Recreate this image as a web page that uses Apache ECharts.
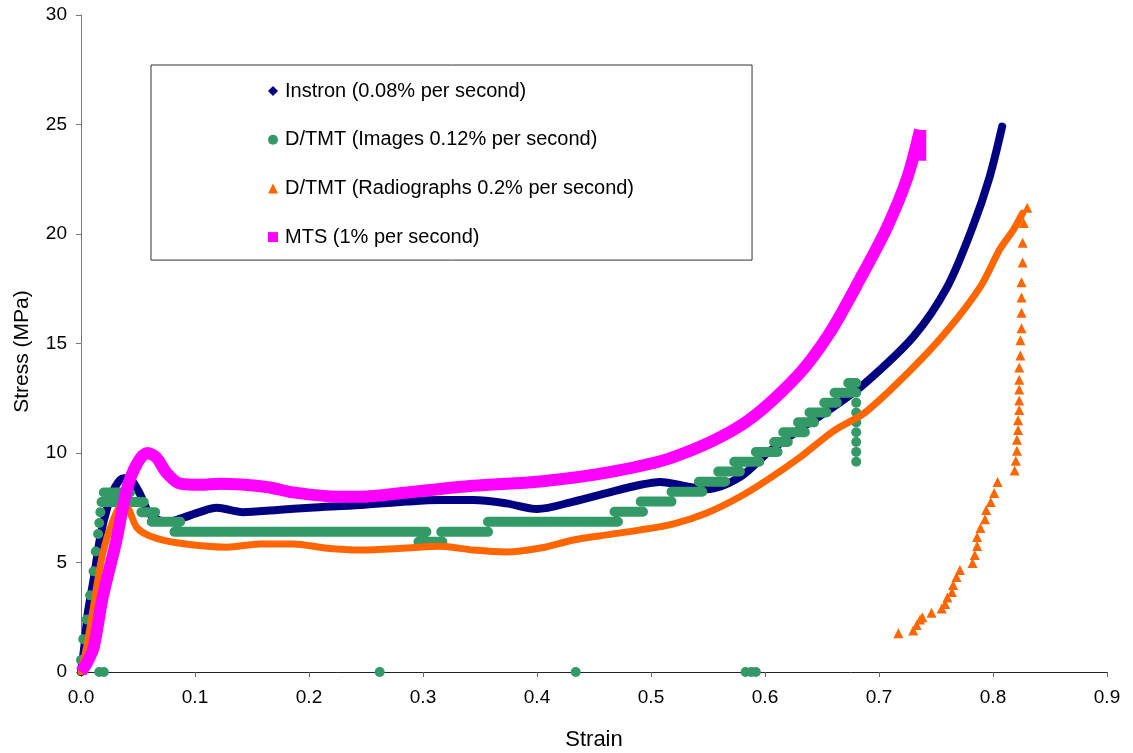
<!DOCTYPE html>
<html>
<head>
<meta charset="utf-8">
<script src="https://cdn.jsdelivr.net/npm/echarts@6/dist/echarts.min.js"></script>
<style>
html,body{margin:0;padding:0;background:#fff;}
#chart{width:1133px;height:753px;}
</style>
</head>
<body>
<div id="chart"></div>
<script>
// ---- Data (strain, stress MPa) ----
const seriesNames = [
  'Instron (0.08% per second)',
  'D/TMT (Images 0.12% per second)',
  'D/TMT (Radiographs 0.2% per second)',
  'MTS (1% per second)'
];

const instronPts = [
  [0,0],[0.003,1.2],[0.006,2.7],[0.011,4.2],[0.017,6.2],[0.023,7.5],[0.030,8.45],[0.037,8.85],
  [0.044,8.77],[0.052,8.1],[0.059,7.3],[0.066,7.0],[0.075,6.85],[0.087,7.0],[0.104,7.3],[0.119,7.5],
  [0.142,7.3],[0.172,7.4],[0.201,7.5],[0.245,7.62],[0.286,7.78],[0.315,7.85],[0.344,7.85],[0.373,7.7],
  [0.400,7.44],[0.432,7.78],[0.461,8.17],[0.490,8.54],[0.508,8.68],[0.534,8.45],[0.549,8.35],[0.578,8.9],
  [0.602,10.0],[0.631,11.1],[0.660,12.1],[0.686,13.1],[0.730,15.3],[0.760,17.6],[0.782,20.3],[0.797,22.6],[0.808,24.9]
];

// D/TMT images: horizontal runs of overlapping dots [strainStart, strainEnd, stress]
const imagesRuns = [
  [0.020,0.043,8.2],[0.018,0.055,7.76],[0.053,0.065,7.3],[0.062,0.087,6.86],[0.082,0.303,6.4],
  [0.296,0.317,5.95],[0.316,0.357,6.4],[0.357,0.471,6.86],[0.468,0.493,7.32],[0.491,0.518,7.78],
  [0.518,0.545,8.23],[0.542,0.565,8.69],[0.559,0.578,9.15],[0.573,0.595,9.6],[0.592,0.611,10.05],
  [0.608,0.620,10.5],[0.616,0.635,10.95],[0.629,0.643,11.4],[0.639,0.654,11.85],[0.652,0.663,12.3],
  [0.661,0.676,12.75],[0.673,0.680,13.2]
];

// D/TMT images: isolated dots [strain, stress]
const imagesDots = [
  [0,0.55],[0.002,1.5],[0.005,2.4],[0.008,3.5],[0.011,4.6],[0.013,5.5],[0.015,6.3],[0.016,6.8],[0.017,7.3],
  [0.680,12.75],[0.680,12.3],[0.680,11.85],[0.680,11.4],[0.680,10.95],[0.680,10.5],[0.680,10.05],[0.680,9.6],
  [0.016,0],[0.020,0],[0.262,0],[0.434,0],[0.583,0],[0.588,0],[0.592,0]
];

const radiographPts = [
  [0,0],[0.005,1.15],[0.011,3.0],[0.019,5.4],[0.028,6.9],[0.036,7.6],[0.041,7.5],[0.049,6.6],[0.061,6.2],
  [0.084,5.9],[0.128,5.7],[0.157,5.85],[0.186,5.85],[0.216,5.65],[0.245,5.57],[0.286,5.66],[0.315,5.74],
  [0.344,5.57],[0.373,5.48],[0.403,5.66],[0.432,6.03],[0.461,6.26],[0.490,6.48],[0.519,6.75],[0.549,7.26],
  [0.578,8.0],[0.602,8.77],[0.631,9.82],[0.660,11.0],[0.689,11.9],[0.730,13.9],[0.760,15.6],[0.789,17.6],
  [0.806,19.3],[0.818,20.2],[0.826,20.95]
];

const radiographTailPts = [
  [0.717,1.77],[0.730,1.9],[0.733,2.15],[0.736,2.4],[0.738,2.5],[0.746,2.7],[0.755,2.9],[0.758,3.1],
  [0.760,3.4],[0.764,3.65],[0.765,3.97],[0.768,4.34],[0.771,4.66],[0.782,4.98],[0.784,5.34],[0.786,5.75],
  [0.786,6.17],[0.789,6.57],[0.793,6.98],[0.794,7.4],[0.798,7.76],[0.801,8.17],[0.804,8.68],[0.819,9.2],
  [0.820,9.65],[0.821,10.1],[0.821,10.6],[0.822,11.05],[0.822,11.5],[0.823,11.96],[0.823,12.4],[0.823,12.9],
  [0.823,13.35],[0.823,13.9],[0.824,14.45],[0.824,15.15],[0.825,15.7],[0.825,16.4],[0.825,17.1],[0.825,17.8],
  [0.826,18.7],[0.826,19.6],[0.827,20.5],[0.830,21.2]
];

const mtsPts = [
  [0,0],[0.005,0.4],[0.011,1.1],[0.019,3.4],[0.031,6.0],[0.040,8.3],[0.049,9.5],[0.058,10.0],[0.066,9.8],
  [0.075,9.1],[0.087,8.6],[0.105,8.55],[0.122,8.6],[0.163,8.45],[0.186,8.2],[0.227,8.0],[0.245,8.0],
  [0.286,8.2],[0.344,8.5],[0.403,8.7],[0.461,9.1],[0.519,9.8],[0.580,11.3],[0.628,13.5],[0.657,15.5],
  [0.686,18.2],[0.707,20.3],[0.725,22.6],[0.736,24.75]
];
// MTS last readings: vertical drop at failure
const mtsEndPts = [[0.7375,24.75],[0.7375,23.35]];

const xTickLabels = ['0.0','0.1','0.2','0.3','0.4','0.5','0.6','0.7','0.8','0.9'];
const yTickLabels = ['0','5','10','15','20','25','30'];

const colors = ['#000080', '#339966', '#FF6600', '#FF00FF'];

// line data with breaks ('-') between runs
const imagesRunLine = [];
imagesRuns.forEach(r => {
  imagesRunLine.push([r[0], r[2]], [r[1], r[2]], [r[1], '-']);
});

// ---- Chart ----
const chart = echarts.init(document.getElementById('chart'), null, {renderer: 'canvas'});
const FONT = 'Liberation Sans, Arial, sans-serif';

chart.setOption({
  animation: false,
  backgroundColor: '#ffffff',
  textStyle: {fontFamily: FONT},
  grid: {left: 81, right: 26, top: 15, bottom: 81, containLabel: false, outerBoundsMode: 'none'},
  legend: {
    orient: 'vertical',
    left: 151, top: 65,
    padding: [16, 118, 13, 117],
    itemGap: 28.7,
    itemWidth: 10, itemHeight: 10,
    borderColor: '#333', borderWidth: 1,
    backgroundColor: '#ffffff',
    selectedMode: false,
    textStyle: {fontSize: 20, fontFamily: FONT, color: '#000', padding: [0, 0, 0, 2]},
    data: [
      {name: seriesNames[0], icon: 'diamond'},
      {name: seriesNames[1], icon: 'circle'},
      {name: seriesNames[2], icon: 'triangle'},
      {name: seriesNames[3], icon: 'rect'}
    ]
  },
  xAxis: {
    type: 'value', min: 0, max: 0.9, interval: 0.1,
    name: 'Strain', nameLocation: 'middle', nameGap: 57,
    nameTextStyle: {fontSize: 22, color: '#000', fontFamily: FONT},
    axisLine: {show: true, onZero: false, lineStyle: {color: '#222', width: 1}},
    axisTick: {show: true, length: 5, lineStyle: {color: '#666'}},
    axisLabel: {fontSize: 19, color: '#000', margin: 16, fontFamily: FONT,
      formatter: v => xTickLabels[Math.round(v * 10)]},
    splitLine: {show: false}
  },
  yAxis: {
    type: 'value', min: 0, max: 30, interval: 5,
    name: 'Stress (MPa)', nameLocation: 'middle', nameGap: 48,
    nameTextStyle: {fontSize: 21, color: '#000', fontFamily: FONT, padding: [0, 16, 0, 0]},
    axisLine: {show: true, lineStyle: {color: '#777', width: 1}},
    axisTick: {show: true, length: 5, lineStyle: {color: '#777'}},
    axisLabel: {fontSize: 19, color: '#000', margin: 14, fontFamily: FONT,
      formatter: v => yTickLabels[Math.round(v / 5)]},
    splitLine: {show: false}
  },
  series: [
    {
      name: seriesNames[0], type: 'line', data: instronPts,
      showSymbol: false, symbol: 'diamond', smooth: 0.3,
      itemStyle: {color: colors[0]},
      lineStyle: {color: colors[0], width: 8, cap: 'round', join: 'round'},
      z: 2
    },
    {
      name: seriesNames[1], type: 'scatter', data: imagesDots,
      symbol: 'circle', symbolSize: 10,
      itemStyle: {color: colors[1], opacity: 1},
      z: 3
    },
    {
      name: seriesNames[1], type: 'line', data: imagesRunLine,
      showSymbol: false, symbol: 'circle', connectNulls: false,
      itemStyle: {color: colors[1]},
      lineStyle: {color: colors[1], width: 10, cap: 'round', join: 'round'},
      z: 3
    },
    {
      name: seriesNames[2], type: 'line', data: radiographPts,
      showSymbol: false, symbol: 'triangle', smooth: 0.3,
      itemStyle: {color: colors[2]},
      lineStyle: {color: colors[2], width: 7, cap: 'round', join: 'round'},
      z: 4
    },
    {
      name: seriesNames[2], type: 'scatter', data: radiographTailPts,
      symbol: 'triangle', symbolSize: 10,
      itemStyle: {color: colors[2], opacity: 1},
      z: 4
    },
    {
      name: seriesNames[3], type: 'line', data: mtsPts,
      showSymbol: false, symbol: 'rect', smooth: 0.3,
      itemStyle: {color: colors[3]},
      lineStyle: {color: colors[3], width: 12, cap: 'butt', join: 'round'},
      z: 5
    },
    {
      name: seriesNames[3], type: 'line', data: mtsEndPts,
      showSymbol: false, symbol: 'rect',
      itemStyle: {color: colors[3]},
      lineStyle: {color: colors[3], width: 9, cap: 'butt'},
      z: 5
    }
  ]
});
</script>
</body>
</html>
